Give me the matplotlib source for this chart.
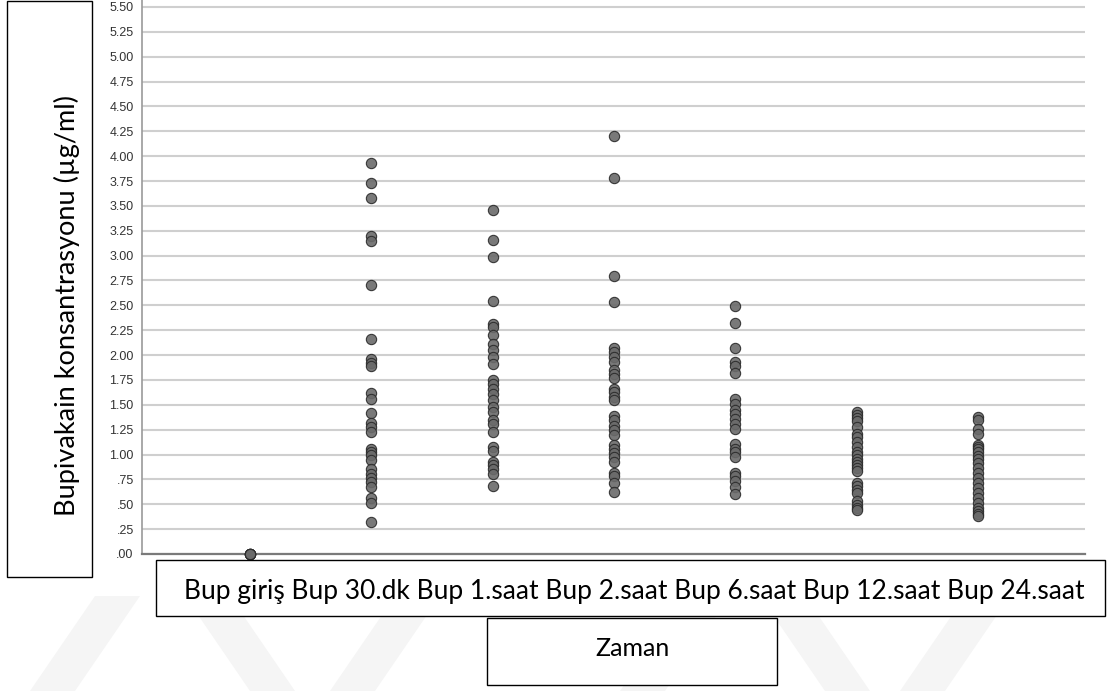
import numpy as np
import matplotlib.pyplot as plt
from matplotlib.patches import Rectangle, Polygon
from matplotlib.ticker import FixedLocator, FuncFormatter

# Sampling times and measured bupivacaine concentrations (ug/ml)
times = ["Bup giriş", "Bup 30.dk", "Bup 1.saat", "Bup 2.saat",
         "Bup 6.saat", "Bup 12.saat", "Bup 24.saat"]

bup_giris = [0.0, 0.0, 0.0, 0.0, 0.0]
bup_30dk = [3.93, 3.73, 3.58, 3.20, 3.15, 2.70, 2.16, 1.96, 1.92, 1.89,
            1.62, 1.56, 1.42, 1.32, 1.28, 1.23, 1.06, 1.03, 1.00, 0.95,
            0.85, 0.80, 0.76, 0.72, 0.67, 0.56, 0.51, 0.32]
bup_1saat = [3.46, 3.16, 2.99, 2.54, 2.31, 2.28, 2.20, 2.11, 2.05, 1.98,
             1.91, 1.75, 1.71, 1.66, 1.61, 1.55, 1.48, 1.43, 1.35, 1.31,
             1.23, 1.08, 1.04, 0.93, 0.89, 0.85, 0.80, 0.68]
bup_2saat = [4.20, 3.78, 2.80, 2.53, 2.07, 2.03, 1.98, 1.93, 1.85, 1.81,
             1.77, 1.66, 1.63, 1.58, 1.55, 1.39, 1.35, 1.29, 1.25, 1.20,
             1.10, 1.06, 1.02, 0.98, 0.93, 0.81, 0.78, 0.71, 0.62]
bup_6saat = [2.49, 2.32, 2.07, 1.93, 1.89, 1.82, 1.56, 1.51, 1.45, 1.41,
             1.36, 1.31, 1.26, 1.11, 1.06, 1.03, 0.98, 0.81, 0.78, 0.73,
             0.67, 0.60]
bup_12saat = [1.43, 1.40, 1.37, 1.34, 1.28, 1.21, 1.18, 1.13, 1.08, 1.03,
              1.00, 0.96, 0.93, 0.89, 0.86, 0.83, 0.71, 0.68, 0.64, 0.61,
              0.53, 0.49, 0.46, 0.44]
bup_24saat = [1.38, 1.35, 1.26, 1.21, 1.10, 1.08, 1.06, 1.03, 0.99, 0.96,
              0.91, 0.86, 0.81, 0.76, 0.71, 0.66, 0.61, 0.56, 0.51, 0.46,
              0.43, 0.40, 0.38]

series = [bup_giris, bup_30dk, bup_1saat, bup_2saat,
          bup_6saat, bup_12saat, bup_24saat]

W, H = 1114, 691
fig = plt.figure(figsize=(W / 100, H / 100), dpi=100)
fig.patch.set_facecolor("white")


def fig_box(x0, y0, x1, y1):
    # pixel box (top-left origin) -> figure fraction rect
    return (x0 / W, 1 - y1 / H, (x1 - x0) / W, (y1 - y0) / H)


# faint diagonal watermark bands along the bottom edge
for x0 in [30, 330, 620, 900]:
    band = [(x0 / W, 0), ((x0 + 45) / W, 0),
            ((x0 + 110) / W, 95 / H), ((x0 + 65) / W, 95 / H)]
    fig.patches.append(Polygon(band, closed=True, transform=fig.transFigure,
                               facecolor="#f5f5f5", edgecolor="none", zorder=0))
for x0 in [185, 760]:
    band = [(x0 / W, 95 / H), ((x0 + 45) / W, 95 / H),
            ((x0 + 110) / W, 0), ((x0 + 65) / W, 0)]
    fig.patches.append(Polygon(band, closed=True, transform=fig.transFigure,
                               facecolor="#f5f5f5", edgecolor="none", zorder=0))

ax = fig.add_axes(fig_box(142, 0, 1085, 554))
ax.set_facecolor("none")

for i, vals in enumerate(series):
    ax.scatter(np.full(len(vals), i), vals, s=55, facecolor="#6a6a6a",
               edgecolor="#2a2a2a", linewidth=0.8, alpha=0.9,
               zorder=3, clip_on=False)

ax.set_xlim(-0.89, 6.88)
ax.set_ylim(0, 5.57)

yticks = np.arange(0, 5.51, 0.25)
ax.yaxis.set_major_locator(FixedLocator(yticks))
ax.yaxis.set_major_formatter(
    FuncFormatter(lambda v, p: "{:.2f}".format(v).lstrip("0") if v < 1 else "{:.2f}".format(v)))
ax.set_xticks([])
ax.tick_params(axis="y", length=0, pad=6, labelsize=9, labelcolor="#333333")
for lab in ax.get_yticklabels():
    lab.set_family("Liberation Sans")

ax.grid(axis="y", color="#cfcfcf", linewidth=1.5, zorder=0)
ax.set_axisbelow(True)

for side in ["top", "right"]:
    ax.spines[side].set_visible(False)
ax.spines["left"].set_color("#9a9a9a")
ax.spines["left"].set_linewidth(1.2)
ax.spines["bottom"].set_color("#7a7a7a")
ax.spines["bottom"].set_linewidth(1.6)

# boxed axis titles
box_style = dict(transform=fig.transFigure, facecolor="white",
                 edgecolor="black", linewidth=1.0, zorder=5)
fig.patches.append(Rectangle(fig_box(7, 1, 92, 577)[:2],
                             width=85 / W, height=576 / H, **box_style))
fig.patches.append(Rectangle(fig_box(156, 560, 1105, 616)[:2],
                             width=949 / W, height=56 / H, **box_style))
fig.patches.append(Rectangle(fig_box(487, 618, 777, 685)[:2],
                             width=290 / W, height=67 / H, **box_style))

title_font = dict(family="Lato", color="black", zorder=6)
fig.text(67 / W, 1 - 305 / H, "Bupivakain konsantrasyonu (µg/ml)",
         rotation=90, ha="center", va="center", fontsize=19.5, **title_font)
fig.text(634 / W, 1 - 591 / H, " ".join(times),
         ha="center", va="center", fontsize=19, **title_font)
fig.text(633 / W, 1 - 649 / H, "Zaman",
         ha="center", va="center", fontsize=18, **title_font)

fig.savefig("out.png", dpi=100)
